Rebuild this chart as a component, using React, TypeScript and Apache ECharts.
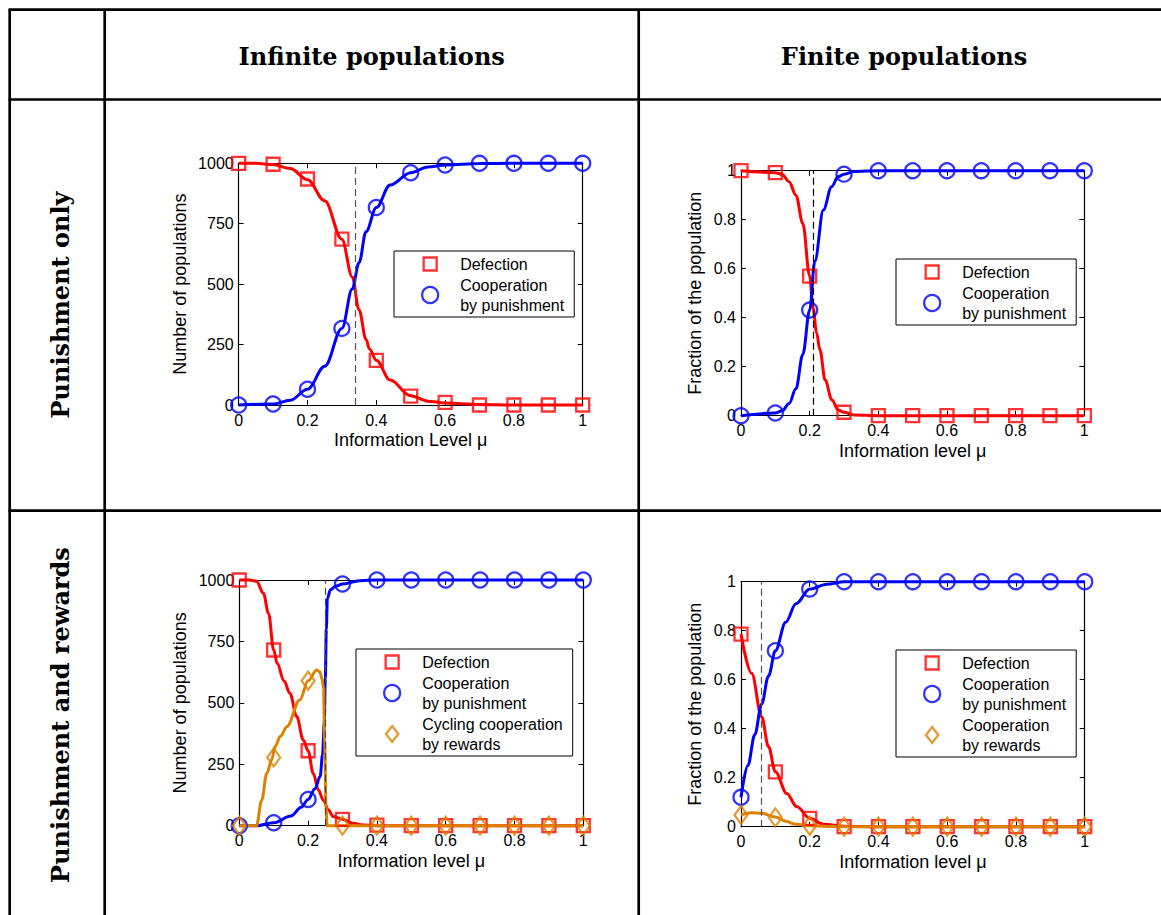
import React, { useEffect, useRef } from "react";
import * as echarts from "echarts";

// ---------- DATA ----------
const MU = [0, 0.1, 0.2, 0.3, 0.4, 0.5, 0.6, 0.7, 0.8, 0.9, 1];

const COL_HEADERS = ["Infinite populations", "Finite populations"];
const ROW_HEADERS = ["Punishment only", "Punishment and rewards"];

const LEG_DEF = "Defection";
const LEG_PUN = "Cooperation\nby punishment";
const LEG_CYC = "Cycling cooperation\nby rewards";
const LEG_REW = "Cooperation\nby rewards";

// Panel A: infinite populations, punishment only
const A_DEF = [1000, 996, 935, 686, 185, 37, 11, 0, 0, 0, 0];
const A_PUN = [0, 4, 65, 317, 817, 961, 993, 1000, 1000, 1000, 1000];
const A_DEF_CURVE = [[0, 1000], [0.05, 1000], [0.1, 995], [0.15, 978], [0.2, 932], [0.25, 845], [0.3, 686], [0.33, 530], [0.35, 393], [0.37, 272], [0.38, 232], [0.4, 185], [0.44, 103], [0.5, 38], [0.55, 16], [0.6, 8], [0.7, 2], [0.8, 0], [1, 0]];
const A_PUN_CURVE = [[0, 0], [0.1, 4], [0.15, 20], [0.2, 65], [0.25, 160], [0.3, 317], [0.33, 480], [0.35, 589], [0.37, 717], [0.4, 817], [0.44, 910], [0.5, 961], [0.55, 985], [0.6, 993], [0.7, 999], [0.8, 1000], [1, 1000]];
const A_THRESHOLD = 0.336;

// Panel B: finite populations, punishment only
const B_DEF = [1, 0.992, 0.57, 0.014, 0, 0, 0, 0, 0, 0, 0];
const B_PUN = [0, 0.011, 0.431, 0.986, 1, 1, 1, 1, 1, 1, 1];
const B_DEF_CURVE = [[0, 1], [0.1, 0.992], [0.12, 0.985], [0.14, 0.955], [0.16, 0.9], [0.18, 0.785], [0.2, 0.57], [0.21, 0.44], [0.22, 0.34], [0.23, 0.268], [0.245, 0.146], [0.265, 0.064], [0.283, 0.023], [0.3, 0.014], [0.33, 0.003], [0.4, 0], [1, 0]];
const B_PUN_CURVE = [[0, 0], [0.1, 0.011], [0.12, 0.02], [0.14, 0.05], [0.16, 0.11], [0.18, 0.25], [0.2, 0.431], [0.215, 0.63], [0.24, 0.84], [0.264, 0.935], [0.283, 0.975], [0.3, 0.986], [0.33, 0.997], [0.4, 1], [1, 1]];
const B_THRESHOLD = 0.21;

// Panel C: infinite populations, punishment and rewards
const C_DEF = [1000, 715, 305, 26, 2, 0, 0, 0, 0, 0, 0];
const C_PUN = [0, 12, 107, 984, 1000, 1000, 1000, 1000, 1000, 1000, 1000];
const C_CYC = [0, 278, 590, 0, 0, 0, 0, 0, 0, 0, 0];
const C_DEF_CURVE = [[0, 1000], [0.03, 1000], [0.05, 995], [0.07, 946], [0.085, 864], [0.1, 715], [0.11, 661], [0.13, 590], [0.147, 539], [0.167, 444], [0.186, 349], [0.2, 305], [0.215, 213], [0.23, 145], [0.244, 104], [0.259, 64], [0.273, 37], [0.3, 26], [0.33, 10], [0.36, 3], [0.4, 0], [1, 0]];
const C_PUN_CURVE = [[0, 0], [0.05, 0], [0.1, 12], [0.15, 39], [0.18, 75], [0.2, 107], [0.22, 150], [0.235, 200], [0.242, 290], [0.247, 420], [0.25, 600], [0.253, 800], [0.256, 925], [0.265, 960], [0.28, 975], [0.3, 984], [0.35, 997], [0.4, 1000], [1, 1000]];
const C_CYC_CURVE = [[0, 0], [0.05, 0], [0.065, 104], [0.08, 213], [0.094, 267], [0.104, 322], [0.12, 365], [0.138, 403], [0.176, 512], [0.2, 590], [0.225, 634], [0.234, 627], [0.24, 600], [0.245, 560], [0.248, 350], [0.252, 80], [0.255, 0], [1, 0]];
const C_THRESHOLD = 0.251;

// Panel D: finite populations, punishment and rewards
const D_DEF = [0.786, 0.224, 0.034, 0, 0, 0, 0, 0, 0, 0, 0];
const D_PUN = [0.12, 0.718, 0.97, 1, 1, 1, 1, 1, 1, 1, 1];
const D_REW = [0.048, 0.038, 0.004, 0, 0, 0, 0, 0, 0, 0, 0];
const D_DEF_CURVE = [[0, 0.786], [0.031, 0.626], [0.06, 0.449], [0.08, 0.327], [0.1, 0.224], [0.133, 0.136], [0.162, 0.082], [0.2, 0.034], [0.24, 0.01], [0.3, 0.002], [0.4, 0], [1, 0]];
const D_PUN_CURVE = [[0, 0.12], [0.02, 0.25], [0.04, 0.375], [0.06, 0.5], [0.08, 0.615], [0.1, 0.718], [0.13, 0.835], [0.16, 0.91], [0.2, 0.97], [0.25, 0.99], [0.3, 1], [1, 1]];
const D_REW_CURVE = [[0, 0.048], [0.03, 0.057], [0.06, 0.055], [0.1, 0.04], [0.13, 0.022], [0.16, 0.01], [0.2, 0.004], [0.25, 0.001], [0.3, 0], [1, 0]];
const D_THRESHOLD = 0.06;

// ---------- STYLE ----------
const RED = "#ff0000";
const BLUE = "#0000ff";
const ORANGE = "#dc8200";
const SANS = "'Liberation Sans', Arial, Helvetica, sans-serif";
const SERIF = "'DejaVu Serif', serif";

const GRIDS = [
  { left: 238.7, top: 163.3, width: 344, height: 241.7 },
  { left: 741, top: 170.7, width: 343.3, height: 245 },
  { left: 239.3, top: 580, width: 344, height: 245.7 },
  { left: 741, top: 581.7, width: 343.7, height: 245 },
];

// square drawn inside a slightly larger (invisible) box so that it renders a bit smaller than the circle
const ICON_SQUARE = "path://M0,0M16,16M1.5,1.5L14.5,1.5L14.5,14.5L1.5,14.5Z";
const ICON_DIAMOND = "path://M7,0L14,9L7,18L0,9Z";

type MarkerDef = { name: string; values: number[]; color: string; symbol: string; size: number | number[]; icon: string };
type CurveDef = { data: number[][]; color: string };
type PanelDef = {
  yMax: number;
  yInterval: number;
  yName: string;
  xName: string;
  yNameGap: number;
  xNameGap: number;
  threshold: number;
  dashColor: string;
  curves: CurveDef[];
  markers: MarkerDef[];
  legendPos: { left: number; top: number };
};

const SQ = { symbol: "rect", size: 13, icon: ICON_SQUARE };
const CI = { symbol: "circle", size: 15, icon: "circle" };
const DI = { symbol: "diamond", size: [13, 18], icon: ICON_DIAMOND };

const PANELS: PanelDef[] = [
  {
    yMax: 1000, yInterval: 250, yName: "Number of populations", xName: "Information Level \u03bc",
    yNameGap: 50, xNameGap: 26, threshold: A_THRESHOLD, dashColor: "#555",
    curves: [{ data: A_DEF_CURVE, color: RED }, { data: A_PUN_CURVE, color: BLUE }],
    markers: [
      { name: LEG_DEF, values: A_DEF, color: RED, ...SQ },
      { name: LEG_PUN, values: A_PUN, color: BLUE, ...CI },
    ],
    legendPos: { left: 394, top: 251 },
  },
  {
    yMax: 1, yInterval: 0.2, yName: "Fraction of the population", xName: "Information level \u03bc",
    yNameGap: 37, xNameGap: 26, threshold: B_THRESHOLD, dashColor: "#000",
    curves: [{ data: B_DEF_CURVE, color: RED }, { data: B_PUN_CURVE, color: BLUE }],
    markers: [
      { name: LEG_DEF, values: B_DEF, color: RED, ...SQ },
      { name: LEG_PUN, values: B_PUN, color: BLUE, ...CI },
    ],
    legendPos: { left: 896, top: 259 },
  },
  {
    yMax: 1000, yInterval: 250, yName: "Number of populations", xName: "Information level \u03bc",
    yNameGap: 50, xNameGap: 26, threshold: C_THRESHOLD, dashColor: "#444",
    curves: [{ data: C_DEF_CURVE, color: RED }, { data: C_PUN_CURVE, color: BLUE }, { data: C_CYC_CURVE, color: ORANGE }],
    markers: [
      { name: LEG_DEF, values: C_DEF, color: RED, ...SQ },
      { name: LEG_PUN, values: C_PUN, color: BLUE, ...CI },
      { name: LEG_CYC, values: C_CYC, color: ORANGE, ...DI },
    ],
    legendPos: { left: 356, top: 649 },
  },
  {
    yMax: 1, yInterval: 0.2, yName: "Fraction of the population", xName: "Information level \u03bc",
    yNameGap: 37, xNameGap: 26, threshold: D_THRESHOLD, dashColor: "#555",
    curves: [{ data: D_DEF_CURVE, color: RED }, { data: D_PUN_CURVE, color: BLUE }, { data: D_REW_CURVE, color: ORANGE }],
    markers: [
      { name: LEG_DEF, values: D_DEF, color: RED, ...SQ },
      { name: LEG_PUN, values: D_PUN, color: BLUE, ...CI },
      { name: LEG_REW, values: D_REW, color: ORANGE, ...DI },
    ],
    legendPos: { left: 896, top: 650 },
  },
];

function fmt(v: number) {
  return String(Math.round(v * 1000) / 1000);
}

function buildOption() {
  const grid: any[] = [];
  const xAxis: any[] = [];
  const yAxis: any[] = [];
  const series: any[] = [];
  const legend: any[] = [];

  const axisLine = { show: true, onZero: false, lineStyle: { color: "#000", width: 1.2 } };
  const axisTick = { show: true, inside: true, length: 5, lineStyle: { color: "#000", width: 1 } };
  const nameStyle = { fontFamily: SANS, fontSize: 18, color: "#000" };
  const labelStyle = { fontFamily: SANS, fontSize: 16, color: "#000" };

  PANELS.forEach((p, i) => {
    grid.push({ ...GRIDS[i], containLabel: false, show: false });
    xAxis.push({
      type: "value", gridIndex: i, min: 0, max: 1, interval: 0.2, position: "bottom",
      axisLine, axisTick, splitLine: { show: false },
      axisLabel: { ...labelStyle, margin: 7, formatter: fmt },
      name: p.xName, nameLocation: "middle", nameGap: p.xNameGap, nameTextStyle: nameStyle,
    });
    xAxis.push({
      type: "value", gridIndex: i, min: 0, max: 1, interval: 0.2, position: "top",
      axisLine, axisTick, splitLine: { show: false }, axisLabel: { show: false },
    });
    yAxis.push({
      type: "value", gridIndex: i, min: 0, max: p.yMax, interval: p.yInterval, position: "left",
      axisLine, axisTick, splitLine: { show: false },
      axisLabel: { ...labelStyle, margin: 5, formatter: fmt },
      name: p.yName, nameLocation: "middle", nameGap: p.yNameGap, nameTextStyle: nameStyle,
    });
    yAxis.push({
      type: "value", gridIndex: i, min: 0, max: p.yMax, interval: p.yInterval, position: "right",
      axisLine, axisTick, splitLine: { show: false }, axisLabel: { show: false },
    });

    p.curves.forEach((c, k) => {
      series.push({
        type: "line", name: `curve-${i}-${k}`, xAxisIndex: 2 * i, yAxisIndex: 2 * i,
        data: c.data, showSymbol: false, symbol: "none", smooth: 0.35, smoothMonotone: "x",
        clip: false, silent: true, z: 2,
        lineStyle: { color: c.color, width: 3 },
        markLine: k === 0 ? {
          silent: true, symbol: "none", label: { show: false },
          lineStyle: { type: [7, 4], color: p.dashColor, width: 1.2 },
          data: [{ xAxis: p.threshold }],
        } : undefined,
      });
    });
    p.markers.forEach((m) => {
      series.push({
        type: "scatter", name: m.name, xAxisIndex: 2 * i, yAxisIndex: 2 * i,
        data: MU.map((x, j) => [x, m.values[j]]),
        symbol: m.symbol, symbolSize: m.size, clip: false, silent: true, z: 3,
        itemStyle: { color: "rgba(0,0,0,0)", borderColor: m.color, borderWidth: 2.3 },
      });
    });

    legend.push({
      show: true, orient: "vertical", left: p.legendPos.left, top: p.legendPos.top,
      padding: [3, 10, 2, 27], itemGap: 1, itemWidth: 50, itemHeight: 16,
      symbolKeepAspect: true,
      borderColor: "#000", borderWidth: 1, backgroundColor: "#fff", borderRadius: 0,
      selectedMode: false, align: "left",
      textStyle: { fontFamily: SANS, fontSize: 16, color: "#000", lineHeight: 20 },
      data: p.markers.map((m) => ({
        name: m.name, icon: m.icon,
        itemStyle: { color: "rgba(0,0,0,0)", borderColor: m.color, borderWidth: 2.3 },
      })),
    });
  });

  const lw = 2.7;
  const lineStyle = { stroke: "#000", lineWidth: lw };
  const headFont = `bold 24px ${SERIF}`;
  const graphic: any[] = [
    { type: "line", shape: { x1: 8.5, y1: 9.7, x2: 1170, y2: 9.7 }, style: lineStyle, silent: true },
    { type: "line", shape: { x1: 8.5, y1: 99.5, x2: 1170, y2: 99.5 }, style: lineStyle, silent: true },
    { type: "line", shape: { x1: 8.5, y1: 510.7, x2: 1170, y2: 510.7 }, style: lineStyle, silent: true },
    { type: "line", shape: { x1: 9.7, y1: 9.7, x2: 9.7, y2: 920 }, style: lineStyle, silent: true },
    { type: "line", shape: { x1: 104.7, y1: 9.7, x2: 104.7, y2: 920 }, style: lineStyle, silent: true },
    { type: "line", shape: { x1: 638.7, y1: 9.7, x2: 638.7, y2: 920 }, style: lineStyle, silent: true },
    {
      type: "text", x: 371.7, y: 56, silent: true,
      style: { text: COL_HEADERS[0], font: headFont, fill: "#000", align: "center", verticalAlign: "middle" },
    },
    {
      type: "text", x: 904, y: 56, silent: true,
      style: { text: COL_HEADERS[1], font: headFont, fill: "#000", align: "center", verticalAlign: "middle" },
    },
    {
      type: "text", x: 60, y: 305, rotation: Math.PI / 2, silent: true,
      style: { text: ROW_HEADERS[0], font: headFont, fill: "#000", align: "center", verticalAlign: "middle" },
    },
    {
      type: "text", x: 60, y: 715, rotation: Math.PI / 2, silent: true,
      style: { text: ROW_HEADERS[1], font: headFont, fill: "#000", align: "center", verticalAlign: "middle" },
    },
  ];

  return {
    animation: false,
    backgroundColor: "#fff",
    grid, xAxis, yAxis, series, legend, graphic,
  };
}

export default function App() {
  const ref = useRef<HTMLDivElement>(null);
  useEffect(() => {
    if (!ref.current) return;
    const chart = echarts.init(ref.current, undefined, { renderer: "svg" });
    chart.setOption(buildOption());
    return () => chart.dispose();
  }, []);
  return (
    <div
      ref={ref}
      style={{ position: "absolute", left: 0, top: 0, width: 1161, height: 915, background: "#fff" }}
    />
  );
}
